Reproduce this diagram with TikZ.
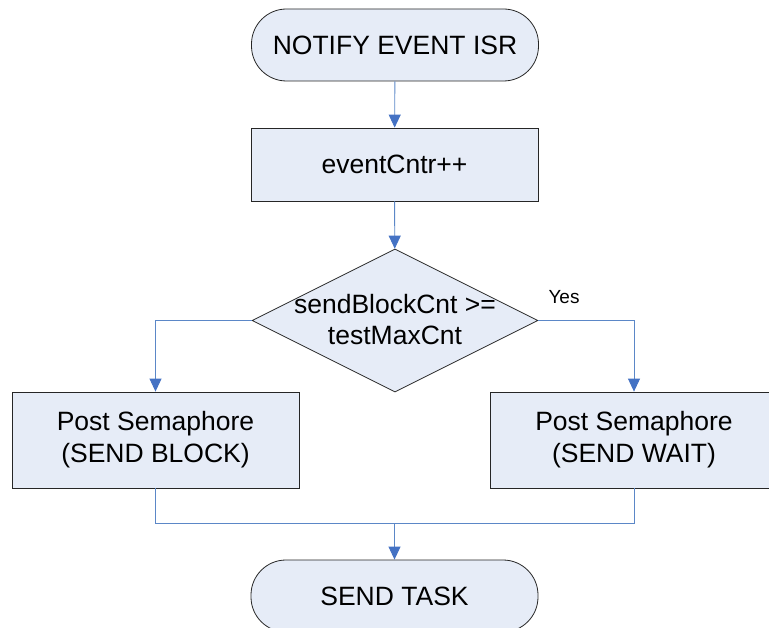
\documentclass[tikz,border=0pt]{standalone}
\usepackage{fontspec}
\setmainfont{Liberation Sans}
\usetikzlibrary{shapes.geometric,arrows.meta}
\definecolor{boxfill}{RGB}{230,236,247}
\definecolor{linkblue}{RGB}{91,135,199}
\definecolor{tipblue}{RGB}{68,114,196}
\begin{document}
\begin{tikzpicture}[x=1pt,y=-1pt,
  base/.style={draw=black!85,line width=0.8pt,fill=boxfill,inner sep=0pt,align=center,
     font=\fontsize{26.5}{32}\selectfont},
  term/.style={base,rectangle,rounded corners=35pt,minimum width=287pt,minimum height=72pt},
  proc/.style={base,rectangle,minimum width=287pt},
  decis/.style={base,diamond,minimum width=286pt,minimum height=143pt},
  link/.style={draw=linkblue,line width=0.9pt},
  arr/.style={link,-{Triangle[width=12pt,length=13pt,fill=tipblue,color=tipblue]}}]
\useasboundingbox (0,0) rectangle (769,628);
\node[term] (start) at (395,45) {NOTIFY EVENT ISR};
\node[proc,minimum height=73pt] (inc) at (394.5,164.5) {eventCntr++};
\node[decis] (dec) at (395,320.5) {};
\node[font=\fontsize{26.5}{31}\selectfont,align=center] (dectxt) at (395,320) {sendBlockCnt >=\\testMaxCnt};
\node[proc,minimum height=96pt] (lb) at (155.5,440) {Post Semaphore\\(SEND BLOCK)};
\node[proc,minimum height=96pt] (rb) at (634,440) {Post Semaphore\\(SEND WAIT)};
\node[term] (endt) at (394.5,596) {SEND TASK};
\node[font=\fontsize{19}{21}\selectfont] (yes) at (564,297) {Yes};
\coordinate (m) at (394.5,523);
\draw[arr] (start) -- (inc);
\draw[arr] (inc) -- (dec);
\draw[arr] (dec.west) -| (lb.north);
\draw[arr] (dec.east) -| (rb.north);
\draw[link] (lb.south) |- (m);
\draw[link] (rb.south) |- (m);
\draw[arr] (m) -- (endt.north);
\end{tikzpicture}
\end{document}
